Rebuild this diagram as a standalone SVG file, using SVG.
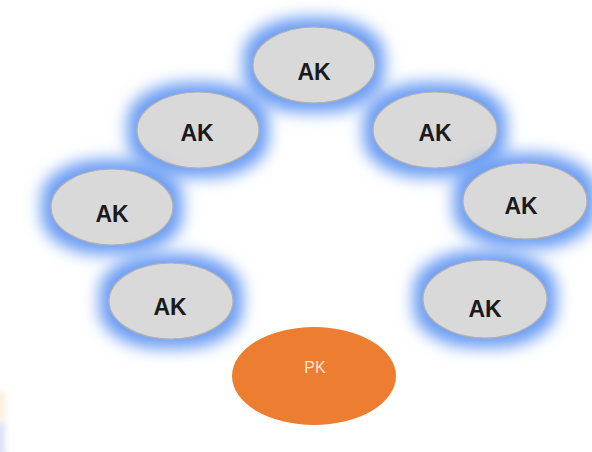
<svg xmlns="http://www.w3.org/2000/svg" width="592" height="452" viewBox="0 0 592 452">
<defs>
<filter id="glow" x="-50%" y="-70%" width="200%" height="240%">
<feMorphology in="SourceAlpha" operator="dilate" radius="9" result="d"/>
<feGaussianBlur in="d" stdDeviation="8" result="b"/>
<feFlood flood-color="#6a9cf3" flood-opacity="1"/>
<feComposite in2="b" operator="in" result="g"/>
<feMerge><feMergeNode in="g"/><feMergeNode in="SourceGraphic"/></feMerge>
</filter>
<filter id="soft" x="-50%" y="-50%" width="200%" height="200%"><feGaussianBlur stdDeviation="3"/></filter>
</defs>
<style>
.ak ellipse{fill:#d9d9d9;stroke:#b0b0b0;stroke-width:1.2;filter:url(#glow)}
.ak text{font-family:"Liberation Sans",Arial,sans-serif;font-weight:bold;font-size:23px;fill:#1a1a1a;text-anchor:middle}
.pk ellipse{fill:#ed7d31}
.pk text{font-family:"Liberation Sans",Arial,sans-serif;font-size:16px;fill:#fbe5d6;text-anchor:middle}
</style>
<rect width="592" height="452" fill="#ffffff"/>
<g id="artifact" filter="url(#soft)">
<rect x="-6" y="392" width="11" height="28" fill="#f5e6c4" opacity="0.6"/>
<rect x="-6" y="422" width="11" height="36" fill="#cfd3f0" opacity="0.7"/>
</g>
<g id="connectors"></g>
<g id="ak-top" class="ak"><ellipse cx="314" cy="65" rx="61" ry="38"/><text x="314" y="80">AK</text></g>
<g id="ak-upper-left" class="ak"><ellipse cx="198" cy="130" rx="61" ry="38"/><text x="197" y="141">AK</text></g>
<g id="ak-upper-right" class="ak"><ellipse cx="435" cy="130" rx="62" ry="38"/><text x="435" y="141">AK</text></g>
<g id="ak-mid-left" class="ak"><ellipse cx="112" cy="207" rx="61" ry="38"/><text x="112" y="222">AK</text></g>
<g id="ak-mid-right" class="ak"><ellipse cx="525" cy="201" rx="62" ry="38"/><text x="521" y="214">AK</text></g>
<g id="ak-low-left" class="ak"><ellipse cx="171" cy="301" rx="62" ry="38"/><text x="170" y="315">AK</text></g>
<g id="ak-low-right" class="ak"><ellipse cx="485" cy="299" rx="62" ry="39"/><text x="485" y="317">AK</text></g>
<g id="pk" class="pk"><ellipse cx="314" cy="376" rx="82" ry="49"/><text x="315" y="373">PK</text></g>
</svg>
